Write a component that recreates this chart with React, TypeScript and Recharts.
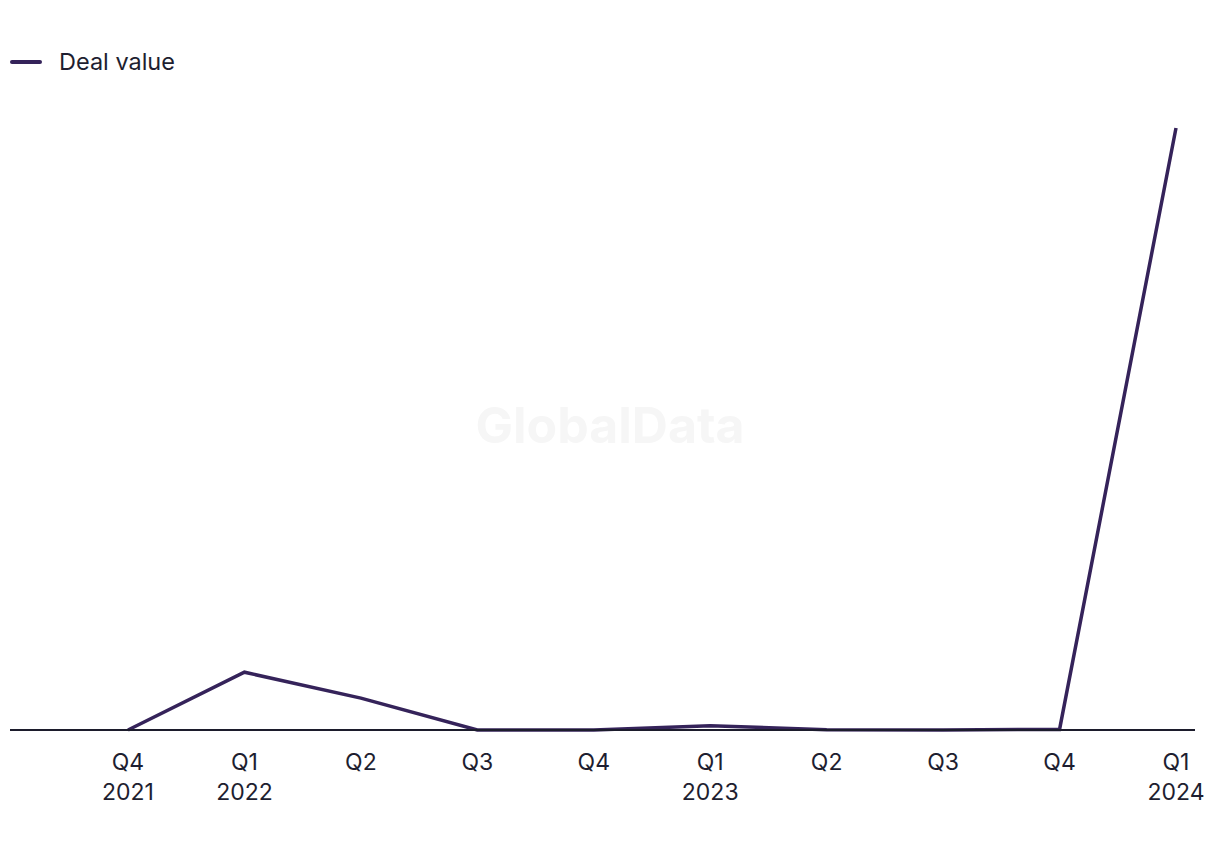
import React from "react";
import { LineChart, Line, XAxis, YAxis } from "recharts";

const quarters = ["Q4", "Q1", "Q2", "Q3", "Q4", "Q1", "Q2", "Q3", "Q4", "Q1"];
const years = ["2021", "2022", "", "", "", "2023", "", "", "", "2024"];
const dealValue = [0, 9.6, 5.3, 0, 0, 0.7, 0.05, 0, 0.1, 100];

const data = quarters.map((q, i) => ({
  key: `${q}-${i}`,
  quarter: q,
  year: years[i],
  value: dealValue[i],
}));

const FONT = "Inter, 'Noto Sans', sans-serif";
const LINE_COLOR = "#35235a";
const TEXT_COLOR = "#1e1e30";

const Tick = (props: any) => {
  const { x, y, payload } = props;
  const d = data[payload.index];
  return (
    <g transform={`translate(${x},${y})`}>
      <text x={0} y={0} dy={32} textAnchor="middle" fill={TEXT_COLOR} fontSize={23} fontFamily={FONT}>
        {d ? d.quarter : ""}
      </text>
      {d && d.year ? (
        <text x={0} y={0} dy={62} textAnchor="middle" fill={TEXT_COLOR} fontSize={23} fontFamily={FONT}>
          {d.year}
        </text>
      ) : null}
    </g>
  );
};

export default function App() {
  return (
    <div style={{ position: "absolute", left: 0, top: 0, width: 1220, height: 850, background: "#fff" }}>
      <div
        style={{
          position: "absolute",
          left: 0,
          width: 1220,
          top: 395,
          textAlign: "center",
          fontFamily: FONT,
          fontWeight: 700,
          fontSize: 50,
          lineHeight: "60px",
          color: "#f6f6f6",
        }}
      >
        GlobalData
      </div>
      <div
        style={{
          position: "absolute",
          left: 10,
          top: 47,
          display: "flex",
          alignItems: "center",
          fontFamily: FONT,
          fontSize: 23.5,
          lineHeight: "30px",
          color: TEXT_COLOR,
        }}
      >
        <svg width={32} height={6} style={{ marginRight: 17 }}>
          <line x1={2} y1={3} x2={30} y2={3} stroke={LINE_COLOR} strokeWidth={4} strokeLinecap="round" />
        </svg>
        <span>Deal value</span>
      </div>
      <div style={{ position: "absolute", left: 0, top: 0 }}>
        <LineChart width={1220} height={850} data={data} margin={{ top: 128, right: 25, bottom: 90, left: 10 }}>
          <XAxis
            dataKey="key"
            tickLine={false}
            axisLine={{ stroke: "#1c1c2c", strokeWidth: 2 }}
            tick={<Tick />}
            interval={0}
            height={30}
            padding={{ left: 118, right: 19 }}
          />
          <YAxis hide domain={[0, 100]} />
          <Line
            type="linear"
            dataKey="value"
            name="Deal value"
            stroke={LINE_COLOR}
            strokeWidth={3.5}
            dot={false}
            isAnimationActive={false}
          />
        </LineChart>
      </div>
    </div>
  );
}
